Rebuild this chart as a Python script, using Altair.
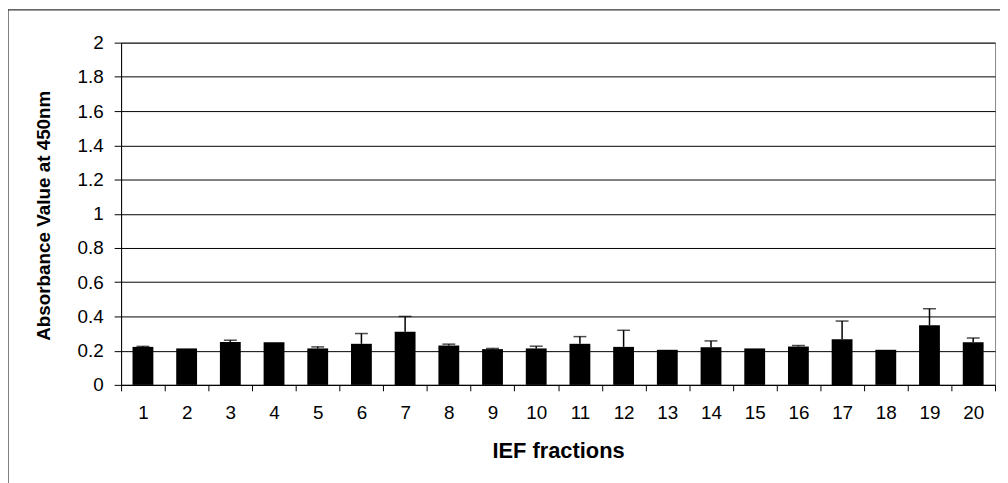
import altair as alt
import pandas as pd

fractions = [str(i) for i in range(1, 21)]
values = [0.222, 0.213, 0.251, 0.249, 0.213, 0.240, 0.311, 0.230, 0.209, 0.213,
          0.240, 0.222, 0.205, 0.220, 0.213, 0.224, 0.267, 0.205, 0.348, 0.249]
errors = [0.003, 0.0, 0.010, 0.0, 0.009, 0.060, 0.089, 0.008, 0.004, 0.013,
          0.042, 0.097, 0.0, 0.037, 0.0, 0.006, 0.106, 0.0, 0.097, 0.025]
y_ticks = [0, 0.2, 0.4, 0.6, 0.8, 1, 1.2, 1.4, 1.6, 1.8, 2]

df = pd.DataFrame({"fraction": fractions, "value": values, "err": errors})
df["upper"] = df["value"] + df["err"]
err_df = df[df["err"] > 0]

FONT = "Liberation Sans"

x_axis = alt.Axis(
    title="IEF fractions",
    labelAngle=0,
    tickBand="extent",
    labelFont=FONT,
    labelFontSize=19,
    labelPadding=13,
    tickSize=6,
    titleFontSize=22,
    titleY=66,
    grid=False,
)
y_axis = alt.Axis(
    title="Absorbance Value at 450nm",
    values=y_ticks,
    format="~g",
    labelOverlap=False,
    labelFont=FONT,
    labelFontSize=19,
    labelPadding=11,
    tickSize=7,
    titleFontSize=19,
    titleX=-78,
    titleY=174,
    titleAngle=-90,
)
x_scale = alt.Scale(paddingInner=0, paddingOuter=0)
y_scale = alt.Scale(domain=[0, 2], nice=False)


def xe():
    return alt.X("fraction:N", sort=fractions, scale=x_scale, axis=x_axis)


def ye(field):
    return alt.Y(field, scale=y_scale, axis=y_axis)


bars = alt.Chart(df).mark_bar(color="black", size=21).encode(
    x=xe(), y=ye("value:Q")
)

err_lines = alt.Chart(err_df).mark_rule(color="black", strokeWidth=1.5).encode(
    x=xe(), y=ye("value:Q"), y2="upper:Q"
)

caps = alt.Chart(err_df).mark_tick(color="black", size=13, thickness=1.5).encode(
    x=xe(), y=ye("upper:Q")
)

frame_df = pd.DataFrame({"k": [0]})
frame_left = alt.Chart(frame_df).mark_rule(color="black", strokeWidth=1).encode(
    x=alt.value(-114), y=alt.value(-33), y2=alt.value(470)
)
frame_top = alt.Chart(frame_df).mark_rule(color="black", strokeWidth=1).encode(
    x=alt.value(-114), x2=alt.value(900), y=alt.value(-33)
)

chart = (
    alt.layer(bars, err_lines, caps, frame_left, frame_top)
    .properties(
        width=881,
        height=345,
        autosize=alt.AutoSizeParams(type="none"),
        padding={"left": 114, "top": 33, "right": 5, "bottom": 97},
    )
    .configure(font=FONT)
    .configure_view(stroke="#888888", strokeWidth=1)
    .configure_axis(
        labelFont=FONT,
        titleFont=FONT,
        labelColor="black",
        titleColor="black",
        tickColor="black",
        domainColor="black",
        gridColor="black",
        gridOpacity=1,
        titleFontWeight="bold",
        titleBaseline="middle",
    )
)

chart.save("out.html", embed_options={"renderer": "svg", "actions": False})
